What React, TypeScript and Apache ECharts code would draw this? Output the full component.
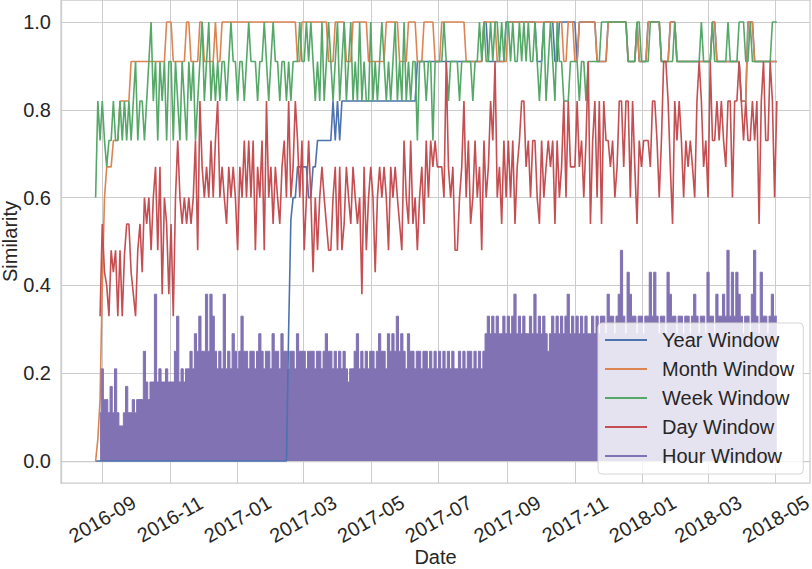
import React, { useEffect, useRef } from "react";
import * as echarts from "echarts";

const FONT = "'Liberation Sans', Arial, sans-serif";
const DAY = 86400000;
// sampling grid: one value every 2 days starting 2016-08-26
const START = Date.UTC(2016, 7, 26);
const STEP = 2 * DAY;

const tickLabels = [
  "2016-09", "2016-11", "2017-01", "2017-03", "2017-05", "2017-07",
  "2017-09", "2017-11", "2018-01", "2018-03", "2018-05",
];
const yTicks = [0, 0.2, 0.4, 0.6, 0.8, 1.0];

const yearWindow = [
  0, 0, 0, 0, 0, 0, 0, 0, 0, 0,
  0, 0, 0, 0, 0, 0, 0, 0, 0, 0,
  0, 0, 0, 0, 0, 0, 0, 0, 0, 0,
  0, 0, 0, 0, 0, 0, 0, 0, 0, 0,
  0, 0, 0, 0, 0, 0, 0, 0, 0, 0,
  0, 0, 0, 0, 0, 0, 0, 0, 0, 0,
  0, 0, 0, 0, 0, 0, 0, 0, 0, 0,
  0, 0, 0, 0, 0, 0, 0, 0, 0, 0,
  0, 0, 0, 0, 0, 0, 0, .3, .55, .6,
  .6, .67, .67, .67, .67, .67, .6, .6, .67, .67,
  .73, .73, .73, .73, .73, .73, .73, .82, .73, .82,
  .73, .82, .82, .82, .82, .82, .82, .82, .82, .82,
  .82, .82, .82, .82, .82, .82, .82, .82, .82, .82,
  .82, .82, .82, .82, .82, .82, .82, .82, .82, .82,
  .82, .82, .82, .82, .82, .91, .91, .91, .91, .91,
  .91, .91, .91, .91, .91, .91, .91, .91, .91, .91,
  .91, .91, .91, .91, .91, .91, .91, .91, .91, .91,
  .91, .91, .91, .91, .91, 1, 1, .91, .91, .91,
  .91, .91, .91, .91, .91, 1, 1, 1, 1, 1,
  1, 1, 1, 1, 1, 1, 1, 1, 1, .91,
  .91, .91, 1, 1, 1, 1, 1, .91, .91, 1,
  1, 1, 1, 1, 1, 1, 1, .91, 1, 1,
  1, 1, 1, 1, 1, 1, .91, .91, .91, .91,
  .91, 1, 1, 1, 1, 1, 1, 1, 1, 1,
  .91, .91, .91, .91, 1, .91, .91, .91, .91, 1,
  1, 1, 1, 1, 1, .91, .91, .91, .91, 1,
  1, 1, .91, .91, .91, .91, .91, .91, .91, .91,
  .91, .91, .91, .91, .91, .91, .91, .91, 1, 1,
  .91, .91, .91, .91, .91, .91, .91, .91, .91, .91,
  .91, .82, .82, .82, 1, 1, 1, .91, .91, .91,
  .91, .91, .91, .91, .91, .91, .91, .91,
];

const monthWindow = [
  0, .05, .14, .4, .6, .67, .67, .67, .73, .73,
  .73, .82, .82, .82, .82, .82, .91, .91, .91, .91,
  .91, .91, .91, .91, .91, .91, .91, .91, .91, .91,
  .91, .91, 1, 1, 1, .91, .91, .91, .91, .91,
  .91, 1, 1, .91, .91, .91, .91, 1, 1, .91,
  .91, .91, .91, .91, 1, .91, .91, 1, 1, 1,
  1, 1, 1, 1, 1, 1, 1, 1, 1, 1,
  1, 1, 1, 1, 1, 1, 1, 1, 1, 1,
  1, 1, 1, 1, 1, 1, 1, 1, 1, 1,
  1, .91, .91, 1, 1, 1, 1, 1, 1, 1,
  1, 1, 1, 1, 1, .91, .91, .91, 1, 1,
  1, 1, 1, .91, .91, .91, 1, 1, 1, 1,
  1, 1, 1, .91, .91, .91, .91, .91, .91, .91,
  .91, 1, 1, 1, 1, 1, 1, .91, .91, .91,
  .91, 1, 1, 1, 1, .91, .91, .91, 1, 1,
  1, 1, 1, .91, .91, .91, 1, 1, 1, 1,
  1, 1, 1, 1, 1, 1, 1, .91, .91, .91,
  .91, .91, .91, .91, .91, 1, 1, 1, 1, 1,
  1, .91, .91, .91, .91, .91, 1, 1, 1, 1,
  1, 1, 1, 1, 1, 1, 1, 1, 1, 1,
  1, 1, 1, 1, 1, 1, 1, 1, 1, 1,
  1, .91, .91, 1, 1, 1, .91, .91, 1, 1,
  1, 1, 1, 1, 1, 1, .91, .91, .91, .91,
  .91, 1, 1, 1, 1, 1, 1, 1, 1, 1,
  .91, .91, .91, .91, 1, .91, .91, .91, .91, 1,
  1, 1, 1, 1, 1, .91, .91, .91, .91, 1,
  1, 1, .91, .91, .91, .91, .91, .91, .91, .91,
  .91, .91, .91, .91, .91, .91, .91, .91, 1, 1,
  .91, .91, .91, .91, .91, .91, .91, .91, .91, .91,
  .91, .82, .82, .82, 1, 1, 1, .91, .91, .91,
  .91, .91, .91, .91, .91, .91, .91, .91,
];

const weekWindow = [
  .6, .82, .73, .82, .73, .67, .73, .73, .82, .73,
  .73, .82, .73, .82, .73, .82, .73, .82, .91, .73,
  .82, .82, .73, .82, .91, 1, .82, .91, .73, .91,
  .82, .91, .73, .91, .91, .73, .91, .82, .73, .91,
  .82, .73, .91, .82, .91, .73, .82, .91, 1, .82,
  .91, 1, .82, .91, .82, .91, .82, .91, .91, .82,
  .91, 1, .91, .91, .82, .91, .91, .82, .91, 1,
  .91, .91, .91, .82, .91, .91, 1, .91, .82, .91,
  1, .91, .91, .82, .91, .91, .82, .91, .82, .91,
  .91, .91, 1, .91, .91, 1, .91, 1, .91, .82,
  .91, .82, 1, .82, .91, 1, .91, .82, .91, 1,
  .82, .91, 1, .82, .91, 1, .82, .91, .82, 1,
  .82, .91, .82, .82, 1, .82, .91, .82, .91, 1,
  .91, .82, .91, .82, .91, 1, .82, .91, .82, 1,
  .82, .91, .82, .91, .91, .73, .91, .91, .91, .82,
  .91, .91, .73, .91, .91, .91, .91, 1, .91, .82,
  .91, .91, .91, .91, .82, .91, .91, .91, .91, .91,
  .82, .91, .91, 1, .91, 1, .91, .91, 1, .91,
  1, 1, .91, 1, .91, 1, 1, .91, 1, .91,
  .91, 1, .91, 1, .91, 1, .91, .91, 1, .91,
  .82, .91, 1, .82, .91, 1, .91, .82, 1, .91,
  .91, .82, .82, .82, .91, .91, .91, .91, .82, .91,
  .91, .82, .91, .91, .91, .91, .91, .91, 1, 1,
  1, 1, 1, 1, 1, 1, 1, 1, 1, 1,
  .91, .91, .91, .91, 1, 1, .91, .91, .91, .91,
  1, 1, 1, 1, 1, .91, .91, .91, .91, .91,
  .91, 1, .91, .91, .91, .91, .91, .91, .91, .91,
  .91, .91, .91, 1, .91, .91, .91, .91, 1, .91,
  .91, .91, .91, .91, .91, 1, .91, .91, .91, .91,
  1, 1, 1, .91, .91, 1, .91, .91, .91, .91,
  .91, .91, .91, .91, .91, 1, 1, 1,
];

const dayWindow = [
  null, null, .33, .54, .43, .4, .33, .48, .43, .48,
  .33, .48, .33, .47, .54, .54, .43, .38, .33, .48,
  .54, .43, .6, .54, .6, .48, .6, .67, .48, .67,
  .38, .6, .54, .38, .54, .33, .6, .73, .6, .54,
  .6, .54, .6, .54, .6, .73, .48, .82, .67, .6,
  .67, .6, .73, .6, .73, .82, .6, .67, .6, .54,
  .67, .6, .67, .6, .48, .67, .6, .73, .6, .73,
  .6, .73, .48, .67, .6, .73, .48, .82, .6, .67,
  .54, .67, .6, .54, .67, .73, .6, .82, .6, .67,
  .82, .73, .6, .73, .48, .6, .73, .6, .43, .6,
  .48, .6, .67, .6, .54, .48, .48, .6, .67, .48,
  .67, .48, .54, .67, .6, .54, .67, .6, .54, .6,
  .38, .67, .48, .6, .67, .6, .43, .6, .67, .6,
  .67, .6, .48, .67, .6, .67, .6, .54, .48, .73,
  .6, .54, .73, .54, .6, .48, .6, .67, .54, .73,
  .6, .73, .67, .73, .67, .67, .67, .6, .91, .67,
  .6, .67, .48, .48, .6, .67, .82, .6, .73, .54,
  .6, .73, .6, .67, .48, .73, .6, .67, .82, .73,
  .91, .6, .67, .54, .73, .6, .73, .6, .73, .54,
  .67, .73, .82, .82, .67, .73, .6, .73, .73, .6,
  .54, .73, .6, .67, .73, .67, .73, .54, .73, .6,
  .67, .82, .6, .82, .67, .67, .67, .82, .67, .73,
  .6, .73, .91, .54, .73, .82, .6, .82, .54, .82,
  .73, .73, .67, .73, .6, .67, .82, .82, .67, .82,
  .82, .6, .82, .67, .54, .73, .67, .73, .73, .73,
  .67, .82, .82, .73, .6, .73, .91, .91, .82, .67,
  .54, .82, .73, .82, .73, .6, .73, .67, .73, .67,
  .6, .82, .91, .82, .67, .73, .6, .91, .73, .73,
  .82, .73, .82, .73, .67, .82, .82, .6, .82, .82,
  .91, .82, .73, .82, .73, .73, .82, .73, .82, .54,
  .82, .91, .73, .73, .91, .82, .6, .82,
];

const hourWindow = [
  null, null, .11, .21, .14, .14, .11, .17, .11, .21,
  .11, .08, .08, .11, .17, .11, .11, .14, .11, .14,
  .14, .14, .25, .18, .14, .18, .18, .38, .18, .21,
  .18, .18, .21, .18, .18, .18, .25, .33, .18, .21,
  .18, .21, .21, .25, .21, .29, .25, .33, .25, .25,
  .38, .25, .38, .33, .25, .21, .25, .21, .38, .21,
  .25, .21, .29, .25, .21, .25, .33, .25, .25, .21,
  .25, .25, .21, .25, .29, .25, .21, .25, .25, .21,
  .29, .25, .25, .21, .29, .25, .25, .21, .25, .25,
  .21, .29, .25, .25, .25, .21, .25, .25, .25, .21,
  .25, .25, .21, .25, .29, .25, .25, .21, .25, .21,
  .25, .21, .25, .21, .18, .21, .21, .25, .29, .21,
  .25, .21, .25, .21, .25, .25, .21, .25, .29, .25,
  .25, .21, .29, .25, .29, .25, .33, .25, .29, .25,
  .21, .29, .25, .25, .21, .25, .25, .21, .25, .25,
  .21, .25, .21, .25, .21, .25, .21, .25, .21, .25,
  .21, .25, .21, .21, .25, .21, .25, .21, .25, .25,
  .21, .25, .21, .25, .21, .25, .29, .33, .29, .33,
  .29, .33, .29, .29, .33, .29, .33, .29, .33, .38,
  .29, .33, .29, .33, .29, .29, .33, .29, .38, .29,
  .33, .29, .33, .29, .25, .29, .33, .29, .33, .29,
  .33, .29, .33, .38, .29, .33, .29, .33, .29, .33,
  .29, .33, .29, .29, .33, .29, .33, .29, .33, .33,
  .29, .38, .33, .33, .29, .33, .38, .48, .33, .29,
  .43, .38, .33, .33, .29, .33, .33, .29, .33, .33,
  .43, .33, .43, .33, .29, .33, .33, .29, .43, .38,
  .33, .33, .29, .33, .33, .29, .33, .33, .29, .33,
  .38, .33, .29, .33, .33, .29, .43, .33, .33, .29,
  .38, .33, .33, .38, .33, .48, .33, .43, .33, .43,
  .38, .33, .29, .33, .33, .29, .38, .48, .33, .29,
  .43, .33, .33, .29, .33, .38, .33, .33,
];

const COLORS = {
  year: "#4C72B0",
  month: "#DD8452",
  week: "#55A868",
  day: "#C44E52",
  hour: "#8172B3",
};

const X_MIN = Date.UTC(2016, 8, 1) - 37.2 * DAY;
const X_MAX = Date.UTC(2016, 8, 1) + 637.9 * DAY;

function toPairs(vals: (number | null)[]) {
  return vals
    .map((v, i) => [START + i * STEP, v] as [number, number | null])
    .filter((p) => p[1] !== null);
}

function tickValue(label: string) {
  const [y, m] = label.split("-").map(Number);
  return Date.UTC(y, m - 1, 1);
}

export default function App() {
  const ref = useRef<HTMLDivElement>(null);
  useEffect(() => {
    if (!ref.current) return;
    const chart = echarts.init(ref.current, null, { renderer: "svg" });
    const xTickValues = tickLabels.map(tickValue);
    const text = { color: "#262626", fontFamily: FONT, fontSize: 20 };
    const line = (name: string, vals: (number | null)[], color: string, extra: any = {}) => ({
      name,
      type: "line",
      data: toPairs(vals),
      showSymbol: false,
      symbol: "none",
      lineStyle: { width: 1.6, color },
      itemStyle: { color },
      emphasis: { disabled: true },
      ...extra,
    });
    chart.setOption({
      animation: false,
      backgroundColor: "#ffffff",
      textStyle: { fontFamily: FONT },
      grid: {
        left: 61,
        right: 2,
        top: 0,
        bottom: 86,
        show: true,
        borderColor: "#cccccc",
        borderWidth: 1.25,
        backgroundColor: "transparent",
        containLabel: false,
        outerBoundsMode: "none",
      },
      xAxis: {
        type: "value",
        min: X_MIN,
        max: X_MAX,
        name: "Date",
        nameLocation: "middle",
        nameGap: 64,
        nameMoveOverlap: false,
        nameTextStyle: { ...text, lineHeight: 20 },
        axisLine: { show: true, lineStyle: { color: "#cccccc", width: 1.25 } },
        axisTick: { show: false, customValues: xTickValues },
        axisLabel: {
          customValues: xTickValues,
          formatter: (v: number) => {
            const idx = xTickValues.indexOf(v);
            return idx >= 0 ? tickLabels[idx] : "";
          },
          rotate: 30,
          align: "center",
          verticalAlign: "middle",
          margin: 36,
          hideOverlap: false,
          ...text,
        },
        splitLine: { show: true, lineStyle: { color: "#cccccc", width: 1 } },
      },
      yAxis: {
        type: "value",
        min: -0.05,
        max: 1.05,
        name: "Similarity",
        nameLocation: "middle",
        nameGap: 41,
        nameMoveOverlap: false,
        nameTextStyle: { ...text, lineHeight: 20 },
        axisLine: { show: true, lineStyle: { color: "#cccccc", width: 1.25 } },
        axisTick: { show: false, customValues: yTicks },
        axisLabel: {
          customValues: yTicks,
          formatter: (v: number) => v.toFixed(1),
          margin: 10,
          ...text,
        },
        splitLine: { show: true, lineStyle: { color: "#cccccc", width: 1 } },
      },
      legend: {
        orient: "vertical",
        left: 598,
        top: 323,
        icon: "rect",
        itemWidth: 42,
        itemHeight: 2,
        itemGap: 9,
        padding: [7, 9, 8, 7],
        backgroundColor: "rgba(255,255,255,0.8)",
        borderColor: "#d6d6d6",
        borderWidth: 1,
        borderRadius: 4,
        selectedMode: false,
        textStyle: { ...text, lineHeight: 20, padding: [0, 0, 0, 10] },
        data: ["Year Window", "Month Window", "Week Window", "Day Window", "Hour Window"],
      },
      series: [
        line("Year Window", yearWindow, COLORS.year),
        line("Month Window", monthWindow, COLORS.month),
        line("Week Window", weekWindow, COLORS.week),
        line("Day Window", dayWindow, COLORS.day),
        line("Hour Window", hourWindow, COLORS.hour, {
          step: "middle",
          lineStyle: { width: 1, color: COLORS.hour },
          areaStyle: { color: COLORS.hour, opacity: 1 },
        }),
      ],
    });
    return () => chart.dispose();
  }, []);
  return (
    <div
      ref={ref}
      style={{ position: "fixed", left: 0, top: 0, width: 812, height: 569, background: "#fff" }}
    />
  );
}
